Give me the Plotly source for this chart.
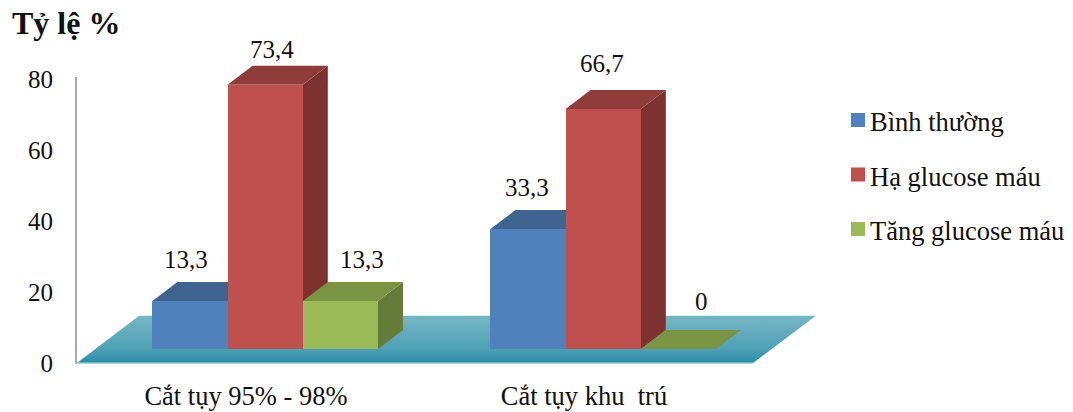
import plotly.graph_objects as go

categories = ["Cắt tụy 95% - 98%", "Cắt tụy khu\u00a0 trú"]
series_names = ["Bình thường", "Hạ glucose máu", "Tăng glucose máu"]
binh_thuong = [13.3, 33.3]
ha_glucose = [73.4, 66.7]
tang_glucose = [13.3, 0]
y_ticks = [0, 20, 40, 60, 80]

# Face colours per series: front, top, right side
front_colors = ["#4F81BD", "#C0504D", "#9BBB59"]
top_colors = ["#3F648F", "#903C3A", "#7A9443"]
side_colors = ["#3A5A80", "#7D3230", "#667C3B"]

# Page geometry in pixels
W, H = 1073, 412
PLOT_L, PLOT_R, PLOT_T, PLOT_B = 76, 830, 60, 364
X_PX_PER_UNIT = 338
X_ZERO_PX = 246
AXIS_PX_PER_VALUE = 3.55
AXIS_ZERO_PX = 363
BAR_PX_PER_VALUE = 3.6
BAR_BASE_PX = 349


def paper_x(px):
    return (px - PLOT_L) / (PLOT_R - PLOT_L)


def paper_y(py):
    return (PLOT_B - py) / (PLOT_B - PLOT_T)


x_range = [(PLOT_L - X_ZERO_PX) / X_PX_PER_UNIT, (PLOT_R - X_ZERO_PX) / X_PX_PER_UNIT]
bar_range = [
    (BAR_BASE_PX - PLOT_B) / BAR_PX_PER_VALUE,
    (BAR_BASE_PX - PLOT_T) / BAR_PX_PER_VALUE,
]
axis_range = [
    (AXIS_ZERO_PX - PLOT_B) / AXIS_PX_PER_VALUE,
    (AXIS_ZERO_PX - PLOT_T) / AXIS_PX_PER_VALUE,
]

bar_w = 75.2 / X_PX_PER_UNIT
group_shift = 19.2 / X_PX_PER_UNIT
depth_x = 25 / X_PX_PER_UNIT
depth_y = 19 / BAR_PX_PER_VALUE

fig = go.Figure()

# Floor slab under the bars, on the tick axis so it sits at the bottom layer
floor_back = 13.3
floor_x = [-0.5, 1.5, 1.5 + 63 / X_PX_PER_UNIT, -0.5 + 62 / X_PX_PER_UNIT, -0.5]
floor_y = [0, 0, floor_back, floor_back, 0]
fig.add_trace(go.Scatter(
    x=floor_x, y=floor_y, mode="none", fill="toself",
    fillgradient=dict(type="vertical",
                      colorscale=[[0, "#2A8DA8"], [0.3, "#4FA0B4"], [1, "#76B7C4"]]),
    hoverinfo="skip", showlegend=False,
))
fig.add_trace(go.Scatter(
    x=floor_x[:2], y=[-0.1, -0.1], mode="lines",
    line=dict(color="#A5DCE4", width=1.5),
    hoverinfo="skip", showlegend=False,
))

# Side and top faces, back layer, painted left to right within each group
all_values = [binh_thuong, ha_glucose, tang_glucose]
for g in range(len(categories)):
    for s, values in enumerate(all_values):
        v = values[g]
        center = g + group_shift + (s - 1) * bar_w
        left, right = center - bar_w / 2, center + bar_w / 2
        fig.add_trace(go.Scatter(
            x=[right, right + depth_x, right + depth_x, right, right],
            y=[0, depth_y, v + depth_y, v, 0],
            yaxis="y2", mode="none", fill="toself", fillcolor=side_colors[s],
            hoverinfo="skip", showlegend=False,
        ))
        fig.add_trace(go.Scatter(
            x=[left, left + depth_x, right + depth_x, right, left],
            y=[v, v + depth_y, v + depth_y, v, v],
            yaxis="y2", mode="none", fill="toself", fillcolor=top_colors[s],
            hoverinfo="skip", showlegend=False,
        ))

# Front faces on the top layer
for s, values in enumerate(all_values):
    fig.add_trace(go.Bar(
        x=[g + group_shift + (s - 1) * bar_w for g in range(len(categories))],
        y=values, width=bar_w, name=series_names[s],
        marker=dict(color=front_colors[s], line=dict(width=0)),
        yaxis="y3", showlegend=False,
    ))

serif = "Liberation Serif"
annotations = []

# Value labels above each column: (dx, dy) in pixels from the column's front top edge
label_offsets = [
    [(-4, 42), (7, 35), (22, 42)],
    [(-1, 42), (-1, 45), (23, 48)],
]
for g in range(len(categories)):
    for s, values in enumerate(all_values):
        v = values[g]
        dx, dy = label_offsets[g][s]
        annotations.append(dict(
            x=g + group_shift + (s - 1) * bar_w, y=v,
            xref="x", yref="y2", text=f"{v:g}".replace(".", ","),
            showarrow=False, xshift=dx, yshift=dy,
            xanchor="center", yanchor="middle",
            font=dict(family=serif, size=25, color="#111111"),
        ))

annotations.append(dict(
    x=paper_x(10), y=paper_y(23), xref="paper", yref="paper",
    text="<b>Tỷ lệ %</b>", showarrow=False,
    xanchor="left", yanchor="middle",
    font=dict(family=serif, size=32, color="#111111"),
))

# Vertical axis rule stops at the top tick, below the tallest column's depth
shapes = [dict(
    type="line", xref="paper", yref="paper",
    x0=0, x1=0, y0=0, y1=paper_y(77),
    line=dict(color="#555555", width=1),
)]

# Key to the series, beside the chart
key_rows = [120, 174.5, 229]
for s, name in enumerate(series_names):
    py = key_rows[s]
    shapes.append(dict(
        type="rect", xref="paper", yref="paper", line=dict(width=0),
        x0=paper_x(851), x1=paper_x(865), y0=paper_y(py + 7), y1=paper_y(py - 7),
        fillcolor=front_colors[s],
    ))
    annotations.append(dict(
        x=paper_x(868), y=paper_y(py + 2), xref="paper", yref="paper",
        text=name, showarrow=False, xanchor="left", yanchor="middle",
        font=dict(family=serif, size=26.5, color="#111111"),
    ))

fig.update_layout(
    width=W, height=H,
    margin=dict(l=PLOT_L, r=W - PLOT_R, t=PLOT_T, b=H - PLOT_B, pad=0),
    paper_bgcolor="white", plot_bgcolor="white",
    showlegend=False, bargap=0,
    annotations=annotations, shapes=shapes,
    xaxis=dict(
        range=x_range, tickmode="array", tickvals=[0, 1], ticktext=categories,
        showgrid=False, zeroline=False, showline=False, ticks="",
        automargin=False, ticklabelstandoff=13,
        tickfont=dict(family=serif, size=26.5, color="#111111"),
    ),
    yaxis=dict(
        range=axis_range, tickmode="array", tickvals=y_ticks,
        showgrid=False, zeroline=False, showline=False, ticks="",
        automargin=False, ticklabelstandoff=22,
        tickfont=dict(family=serif, size=25, color="#111111"),
    ),
    yaxis2=dict(range=bar_range, overlaying="y", visible=False),
    yaxis3=dict(range=bar_range, overlaying="y", visible=False),
)

fig.write_html("out.html", config=dict(displayModeBar=False))
